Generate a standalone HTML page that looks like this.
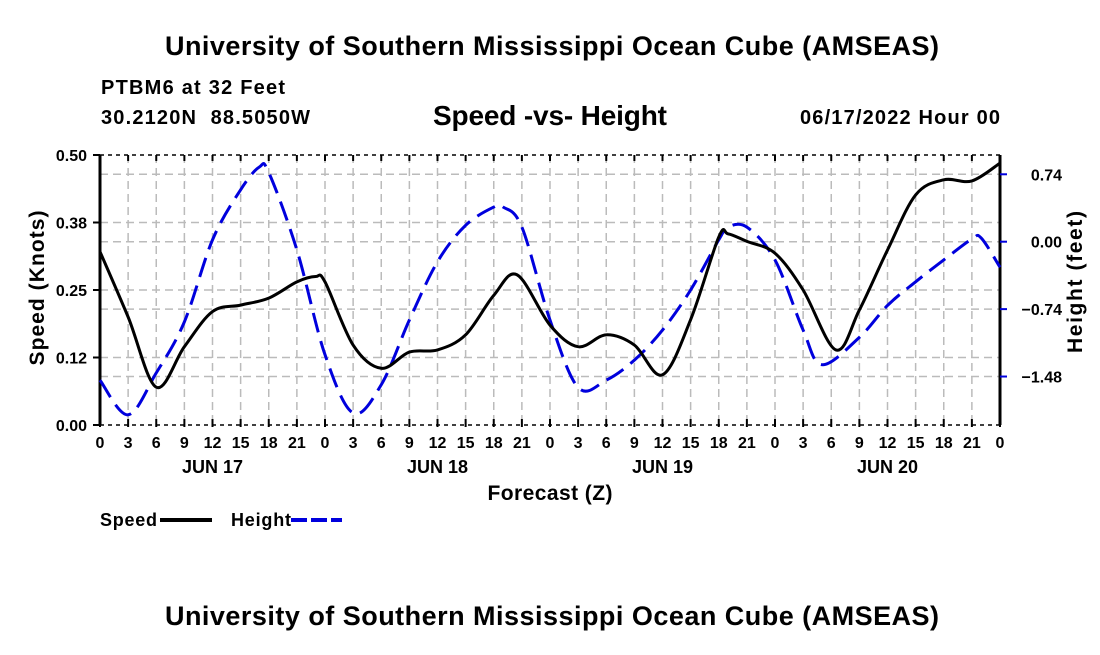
<!DOCTYPE html>
<html><head><meta charset="utf-8"><style>
body{margin:0;background:#fff;}
svg text{font-family:"Liberation Sans",sans-serif;font-weight:bold;fill:#000;white-space:pre;}
</style></head><body>
<svg width="1100" height="650">
<text x="552" y="55" font-size="27" text-anchor="middle" textLength="774">University of Southern Mississippi Ocean Cube (AMSEAS)</text>
<text x="101" y="94" font-size="20" textLength="184">PTBM6 at 32 Feet</text>
<text x="101" y="124" font-size="20" textLength="209" xml:space="preserve">30.2120N  88.5050W</text>
<text x="550" y="125" font-size="28" text-anchor="middle" textLength="234">Speed -vs- Height</text>
<text x="1000" y="124" font-size="20" text-anchor="end" textLength="200">06/17/2022 Hour 00</text>
<g id="grid"></g>
<g id="axes"></g>
<path id="heightLine" fill="none" stroke="#0000dd" stroke-width="3" stroke-dasharray="20,9"/>
<path id="speedLine" fill="none" stroke="#000" stroke-width="3"/>
<text transform="translate(44,288) rotate(-90)" font-size="21" text-anchor="middle" textLength="155">Speed (Knots)</text>
<text transform="translate(1082,282) rotate(-90)" font-size="21" text-anchor="middle" textLength="142">Height (feet)</text>
<text x="550" y="500" font-size="21" text-anchor="middle" textLength="125">Forecast (Z)</text>
<g>
<text x="100" y="526" font-size="18" textLength="57">Speed</text>
<line x1="160" y1="520" x2="212" y2="520" stroke="#000" stroke-width="4"/>
<text x="231" y="526" font-size="18" textLength="60">Height</text>
<line x1="291" y1="520" x2="342" y2="520" stroke="#0000dd" stroke-width="4" stroke-dasharray="16,4"/>
</g>
<text x="552" y="625" font-size="27" text-anchor="middle" textLength="774">University of Southern Mississippi Ocean Cube (AMSEAS)</text>
</svg>
<script>
const speedHours=[0,3,6,9,12,15,18,21,23,24,27,30,33,36,39,42,44.5,48,51,54,57,60,63,66,67,69,72,75,78.5,81,84,87,90,93,96];
const speedVals=[0.321,0.20,0.07,0.145,0.21,0.222,0.235,0.265,0.275,0.265,0.148,0.105,0.135,0.139,0.167,0.24,0.278,0.185,0.145,0.167,0.148,0.093,0.195,0.348,0.354,0.34,0.318,0.25,0.139,0.213,0.324,0.426,0.454,0.452,0.485];
const heightHours=[0,3,6,9,12,15,17,18,21,24,27,30,33,36,39,42,43,45,48,51,54,57,60,63,66,67,69,72,75,77,81,84,87,90,93,94,96];
const heightVals=[-1.52,-1.90,-1.44,-0.88,0.02,0.57,0.82,0.76,-0.09,-1.24,-1.88,-1.57,-0.86,-0.22,0.18,0.38,0.38,0.16,-0.86,-1.60,-1.52,-1.30,-0.97,-0.53,0.02,0.16,0.16,-0.20,-0.97,-1.35,-1.05,-0.70,-0.44,-0.20,0.03,0.04,-0.28];
const speedTicks=["0.00","0.12","0.25","0.38","0.50"];
const speedTickVals=[0,0.125,0.25,0.375,0.5];
const heightTickVals=[-1.48,-0.74,0,0.74];
const heightTicks=["\u22121.48","\u22120.74","0.00","0.74"];
const hourLabels=["0","3","6","9","12","15","18","21"];
const dayLabels=["JUN 17","JUN 18","JUN 19","JUN 20"];
const L=100,R=1000,T=155,B=425;
const xs=h=>L+h*(R-L)/96;
const ys=v=>B-v*(B-T)/0.5;
const yh=v=>241.7-v*91.1;
const NS='http://www.w3.org/2000/svg';
function mk(tag,attrs,parent){const e=document.createElementNS(NS,tag);for(const k in attrs)e.setAttribute(k,attrs[k]);parent.appendChild(e);return e;}
const grid=document.getElementById('grid'),axes=document.getElementById('axes');
for(let h=3;h<96;h+=3){const g=mk('line',{x1:xs(h),x2:xs(h),y1:T,y2:B,stroke:'#bbb','stroke-width':1.5,'stroke-dasharray':'8,5'},grid);

}
speedTickVals.slice(1,4).forEach(v=>{const g=mk('line',{x1:L,x2:R,y1:ys(v),y2:ys(v),stroke:'#bbb','stroke-width':1.5,'stroke-dasharray':'8,5'},grid);

});
heightTickVals.forEach(v=>{const g=mk('line',{x1:L,x2:R,y1:yh(v),y2:yh(v),stroke:'#bbb','stroke-width':1.5,'stroke-dasharray':'8,5'},grid);

});
mk('line',{x1:L,x2:R,y1:T,y2:T,stroke:'#000','stroke-width':1.5,'stroke-dasharray':'4,4'},axes);
mk('line',{x1:L,x2:R,y1:B,y2:B,stroke:'#000','stroke-width':1.5,'stroke-dasharray':'4,4'},axes);
mk('line',{x1:L,x2:L,y1:T,y2:B,stroke:'#000','stroke-width':3},axes);
mk('line',{x1:R,x2:R,y1:T,y2:B,stroke:'#000','stroke-width':3},axes);
speedTickVals.forEach((v,i)=>{
mk('line',{x1:L-7,x2:L,y1:ys(v),y2:ys(v),stroke:'#000','stroke-width':2},axes);
const t=mk('text',{x:L-13,y:ys(v)+6,'font-size':16,'text-anchor':'end'},axes);t.textContent=speedTicks[i];

});
heightTickVals.forEach((v,i)=>{
mk('line',{x1:R,x2:R+7,y1:yh(v),y2:yh(v),stroke:'#0000dd','stroke-width':2},axes);
const t=mk('text',{x:R+62,y:yh(v)+6,'font-size':16,'text-anchor':'end'},axes);t.textContent=heightTicks[i];

});
for(let h=0;h<=96;h+=3){
mk('line',{x1:xs(h),x2:xs(h),y1:B-6,y2:B+2,stroke:'#000','stroke-width':2},axes);
mk('line',{x1:xs(h),x2:xs(h),y1:T,y2:T+6,stroke:'#000','stroke-width':2},axes);
const t=mk('text',{x:xs(h),y:B+23,'font-size':16,'text-anchor':'middle'},axes);t.textContent=hourLabels[(h/3)%8];

}
dayLabels.forEach((d,i)=>{const t=mk('text',{x:xs(12+24*i),y:B+48,'font-size':18,'text-anchor':'middle'},axes);t.textContent=d;

});
function smooth(pts){let d='M'+pts[0][0]+','+pts[0][1];
for(let i=0;i<pts.length-1;i++){const p0=pts[Math.max(0,i-1)],p1=pts[i],p2=pts[i+1],p3=pts[Math.min(pts.length-1,i+2)];
const c1=[p1[0]+(p2[0]-p0[0])/6,p1[1]+(p2[1]-p0[1])/6],c2=[p2[0]-(p3[0]-p1[0])/6,p2[1]-(p3[1]-p1[1])/6];
d+=' C'+c1[0]+','+c1[1]+' '+c2[0]+','+c2[1]+' '+p2[0]+','+p2[1];}return d;}
document.getElementById('speedLine').setAttribute('d',smooth(speedHours.map((h,i)=>[xs(h),ys(speedVals[i])])));
document.getElementById('heightLine').setAttribute('d',smooth(heightHours.map((h,i)=>[xs(h),yh(heightVals[i])])));
</script>
</body></html>
